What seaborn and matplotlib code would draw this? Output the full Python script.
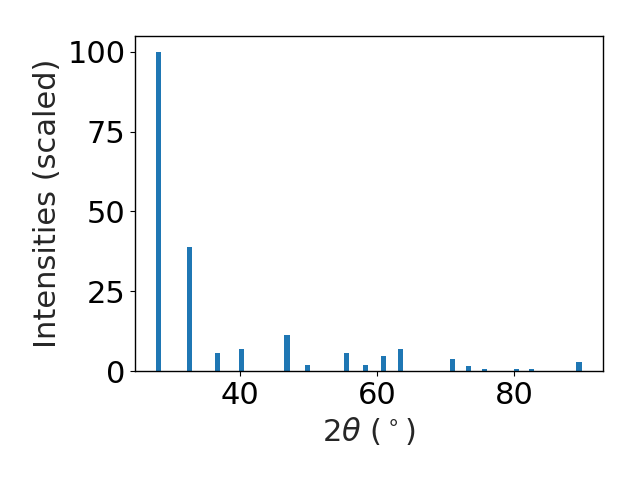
import numpy as np
import matplotlib
matplotlib.use("Agg")
import matplotlib.pyplot as plt
import seaborn as sns

# XRD peak positions (2theta, degrees) and scaled intensities
two_theta = [28.2, 32.7, 36.7, 40.3, 46.9, 49.9, 55.6, 58.3, 61.0, 63.5,
             71.0, 73.4, 75.7, 80.4, 82.6, 89.5]
intensity = [100.0, 38.9, 5.6, 6.9, 11.3, 1.9, 5.6, 1.9, 4.7, 6.9,
             3.8, 1.6, 0.7, 0.7, 0.7, 2.8]

sns.set_style("white")
plt.rcParams["font.family"] = ["DejaVu Sans"]
plt.rcParams["mathtext.fontset"] = "dejavusans"
BLUE = sns.color_palette("tab10")[0]

fig = plt.figure(figsize=(6.4, 4.8), dpi=100)
ax = fig.add_axes([0.211, 0.227, 0.731, 0.698])
ax.bar(two_theta, intensity, width=0.75, color=BLUE, linewidth=0, edgecolor="none")

for side in ["top", "right", "bottom", "left"]:
    ax.spines[side].set_visible(True)
    ax.spines[side].set_color("black")
    ax.spines[side].set_linewidth(1.0)

ax.set_yticks([0, 25, 50, 75, 100])
ax.set_xticks([40, 60, 80])
ax.tick_params(axis="both", labelsize=22, direction="out", length=3.5, width=0.8,
               bottom=True, left=True, colors="black")
ax.set_xlabel(r"$2\theta$ ($^\circ$)", fontsize=22)
ax.set_ylabel("Intensities (scaled)", fontsize=22)

fig.savefig("out.png", dpi=100)
